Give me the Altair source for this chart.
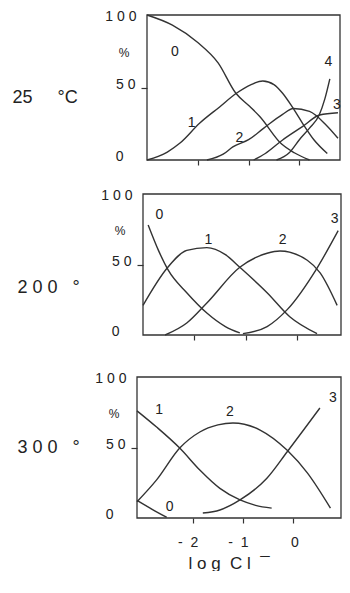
import altair as alt
import pandas as pd

FONT = "Liberation Sans"
INK = "#333333"
TXT = "#222222"
NB = "\u00a0"

# ---------------- data: panel 1 (25 °C) ----------------
P1_C0_X = [-3.0, -2.5, -2.0, -1.6, -1.25, -0.98, -0.78, -0.35, -0.1, 0.2]
P1_C0_Y = [100, 93, 81, 67, 46, 37, 30, 11, 5, 0]
P1_C1_X = [-3.0, -2.6, -2.35, -1.96, -1.57, -1.24, -0.95, -0.72, -0.5, -0.33, -0.14, 0.06, 0.29, 0.55]
P1_C1_Y = [0, 5.5, 11.7, 25.5, 36.6, 46, 52, 54.5, 52, 46, 36.6, 25.5, 13.8, 4.5]
P1_C2_X = [-1.82, -1.5, -1.31, -1.0, -0.7, -0.33, -0.12, 0.2, 0.53, 0.76]
P1_C2_Y = [0, 4, 9, 14, 22, 31.5, 35.5, 33.5, 24, 15]
P1_C3_X = [-0.9, -0.67, -0.33, 0.06, 0.4, 0.76]
P1_C3_Y = [0, 4.5, 13.8, 23, 31, 32.6]
P1_C4_X = [-0.45, -0.2, 0.0, 0.2, 0.39, 0.5, 0.6]
P1_C4_Y = [0, 5, 14, 22, 31, 42, 56]
P1_LAB = ["0", "1", "2", "4", "3"]
P1_LAB_X = [-2.45, -2.12, -1.18, 0.57, 0.74]
P1_LAB_Y = [74.7, 25.5, 15, 67.8, 38]

# ---------------- data: panel 2 (200 °) ----------------
P2_C0_X = [-2.9, -2.7, -2.51, -2.15, -1.76, -1.4, -1.12]
P2_C0_Y = [78, 60, 46, 30, 15.6, 6, 1.5]
P2_C1_X = [-3.0, -2.53, -2.15, -1.76, -1.4, -1.12, -0.59, -0.15, 0.38]
P2_C1_Y = [21, 47.5, 60, 62, 57, 48, 30, 13, 1]
P2_C2_X = [-2.57, -2.15, -1.76, -1.12, -0.59, -0.34, 0.19, 0.44, 0.77]
P2_C2_Y = [0, 8.5, 22.7, 48, 58, 59.6, 53, 44, 21]
P2_C3_X = [-1.06, -0.59, -0.2, 0.38, 0.79]
P2_C3_Y = [1, 6, 18, 47.5, 74]
P2_LAB = ["0", "1", "2", "3"]
P2_LAB_X = [-2.68, -1.73, -0.29, 0.72]
P2_LAB_Y = [85, 67.4, 67.4, 82]

# ---------------- data: panel 3 (300 °) ----------------
P3_C0_X = [-3.11, -2.8, -2.52]
P3_C0_Y = [12.5, 6, 0.5]
P3_C1_X = [-3.11, -2.72, -2.26, -1.86, -1.46, -1.06, -0.75, -0.43]
P3_C1_Y = [76, 64.5, 49.6, 34, 21, 12.8, 9, 7]
P3_C2_X = [-3.11, -2.72, -2.26, -1.86, -1.5, -1.2, -0.66, -0.12, 0.28, 0.74]
P3_C2_Y = [11.5, 27, 49.6, 61, 66, 67.4, 62.4, 48, 32, 7]
P3_C3_X = [-1.8, -1.46, -1.06, -0.53, -0.12, 0.53]
P3_C3_Y = [3.5, 5.7, 12.8, 28, 47, 78]
P3_LAB = ["1", "2", "0", "3"]
P3_LAB_X = [-2.67, -1.26, -2.46, 0.79]
P3_LAB_Y = [76.6, 75.4, 8, 85]

X_TICKS = [-2, -1, 0]
Y_TICKS = [0, 50, 75, 100]


def curves_df(curves):
    rows = []
    for name, (xs, ys) in curves.items():
        for i, (a, b) in enumerate(zip(xs, ys)):
            rows.append({"curve": name, "x": a, "y": b, "order": i})
    return pd.DataFrame(rows)


def panel(curves, lab, lab_x, lab_y, xdom, xrange, yrange, height, temp,
          title_x, title_y, last):
    df = curves_df(curves)
    labels = pd.DataFrame({"t": lab, "x": lab_x, "y": lab_y})
    frame = pd.DataFrame({"x": [xdom[0]], "x1": [xdom[1]], "y": [0], "y1": [100]})

    xs = alt.Scale(domain=xdom, range=xrange, nice=False, zero=False)
    ys = alt.Scale(domain=[0, 100], range=yrange, nice=False, zero=False)

    yaxis = alt.Axis(
        values=Y_TICKS,
        labelExpr=("datum.value == 100 ? '1" + NB + "0" + NB + "0' : "
                   "datum.value == 50 ? '5" + NB + "0' : "
                   "datum.value == 75 ? '%' : '0'"),
        domain=False, grid=False, offset=-xrange[0],
        tickColor=INK, tickWidth=1.2,
        tickSize={"condition": {"test": "datum.value == 50", "value": 6}, "value": 0},
        labelPadding={"condition": [
            {"test": "datum.value == 0", "value": 24},
            {"test": "datum.value == 75", "value": 18},
            {"test": "datum.value == 50", "value": 6}], "value": 11},
        labelOffset={"condition": [
            {"test": "datum.value == 0", "value": -4},
            {"test": "datum.value == 50", "value": -3}], "value": 1},
        labelFontSize={"condition": {"test": "datum.value == 75", "value": 12}, "value": 14},
        labelFont=FONT, labelColor=TXT, labelFlush=False, labelOverlap=False,
        title=temp, titleAngle=0, titleAlign="left", titleBaseline="alphabetic",
        titleX=title_x, titleY=title_y, titleFont=FONT, titleFontSize=18,
        titleFontWeight="normal", titleColor=TXT,
    )
    if last:
        xaxis = alt.Axis(
            values=X_TICKS, domain=False, grid=False, tickSize=5, tickColor=INK,
            tickWidth=1.2,
            labelExpr="datum.value < 0 ? '-" + NB + NB + "' + (-datum.value) : '0'",
            labelAlign="right", labelOffset=5, labelPadding=12, labelFont=FONT,
            labelFontSize=14, labelColor=TXT, labelFlush=False, labelOverlap=False,
            title="l" + NB + "o" + NB + "g" + NB + NB + "C" + NB + "l" + NB + NB + "\u00af",
            titleFont=FONT, titleFontSize=17, titleFontWeight="normal",
            titleColor=TXT, titleAlign="left", titleBaseline="alphabetic",
            titleX=180, titleY=50,
        )
    else:
        xaxis = alt.Axis(values=X_TICKS, domain=False, grid=False, tickSize=5,
                         tickColor=INK, tickWidth=1.2, labels=False, title="")

    X = alt.X("x:Q", scale=xs, axis=xaxis)
    Y = alt.Y("y:Q", scale=ys, axis=yaxis)

    box = alt.Chart(frame).mark_rect(
        fillOpacity=0, stroke=INK, strokeWidth=1.3
    ).encode(x=X, x2="x1:Q", y=Y, y2="y1:Q")
    lines = alt.Chart(df).mark_line(
        interpolate="monotone", color=INK, strokeWidth=1.4
    ).encode(x=X, y=Y, detail="curve:N", order="order:Q")
    text = alt.Chart(labels).mark_text(
        font=FONT, fontSize=14, color=TXT, align="center", baseline="middle"
    ).encode(x=X, y=Y, text="t:N")
    return alt.layer(box, lines, text).properties(width=334, height=height)


p1 = panel({"0": (P1_C0_X, P1_C0_Y), "1": (P1_C1_X, P1_C1_Y), "2": (P1_C2_X, P1_C2_Y),
            "3": (P1_C3_X, P1_C3_Y), "4": (P1_C4_X, P1_C4_Y)},
           P1_LAB, P1_LAB_X, P1_LAB_Y, [-3, 0.8], [139, 332], [152, 7], 152,
           "25" + NB * 5 + "\u00b0C", -135, 94, False)
p2 = panel({"0": (P2_C0_X, P2_C0_Y), "1": (P2_C1_X, P2_C1_Y), "2": (P2_C2_X, P2_C2_Y),
            "3": (P2_C3_X, P2_C3_Y)},
           P2_LAB, P2_LAB_X, P2_LAB_Y, [-3, 0.845], [135, 333], [175, 34], 175,
           "2" + NB + "0" + NB + "0" + NB * 3 + "\u00b0", -126, 132, False)
p3 = panel({"0": (P3_C0_X, P3_C0_Y), "1": (P3_C1_X, P3_C1_Y), "2": (P3_C2_X, P3_C2_Y),
            "3": (P3_C3_X, P3_C3_Y)},
           P3_LAB, P3_LAB_X, P3_LAB_Y, [-3.11, 0.95], [129, 333], [183, 42], 183,
           "3" + NB + "0" + NB + "0" + NB * 3 + "\u00b0", -120, 117, True)

chart = alt.vconcat(p1, p2, p3, spacing=0, bounds="flush").resolve_scale(
    x="independent", y="independent"
).properties(padding=0, background="white").configure_view(stroke=None)

chart.save("out.html", embed_options={"renderer": "svg", "actions": False})
